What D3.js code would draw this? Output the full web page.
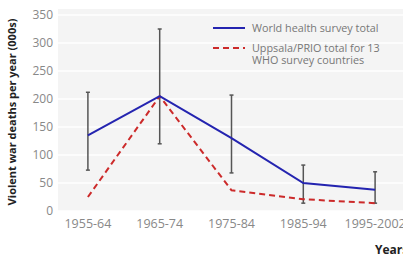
<!DOCTYPE html>
<html><head><meta charset="utf-8">
<script src="https://cdn.jsdelivr.net/npm/d3@7"></script>
<style>body{margin:0;background:#fff}svg{display:block}text{font-family:"Open Sans",sans-serif}</style>
</head><body>
<script>
const categories = ["1955-64","1965-74","1975-84","1985-94","1995-2002"];
const whoTotal = [135, 205, 130, 50, 38];
const whoLow = [73, 120, 68, 14, 14];
const whoHigh = [212, 325, 207, 82, 70];
const uppsala = [25, 205, 37, 21, 14];
const yTicks = [0,50,100,150,200,250,300,350];

const W=403,H=260;
const svg=d3.select("body").append("svg").attr("width",W).attr("height",H);
const x=d3.scaleBand().domain(categories).range([52,411]);
const cx=d=>x(d)+x.bandwidth()/2;
const y=d3.scaleLinear().domain([0,350]).range([211,15]);

svg.append("rect").attr("x",58).attr("y",9).attr("width",W-58).attr("height",211-9).attr("fill","#f4f4f4");
svg.selectAll(".grid").data(yTicks).join("line").attr("x1",58).attr("x2",W)
  .attr("y1",d=>y(d)).attr("y2",d=>y(d)).attr("stroke","#fff").attr("stroke-width",1.5);

const yAxis=svg.append("g").attr("transform","translate(53,0)")
  .call(d3.axisLeft(y).tickValues(yTicks).tickSize(0).tickPadding(0));
yAxis.select(".domain").remove();
yAxis.selectAll("text").attr("fill","#888").style("font-size","12px").style("font-family","Open Sans");

const xAxis=svg.append("g").attr("transform","translate(0,219)")
  .call(d3.axisBottom(x).tickSize(0).tickPadding(0));
xAxis.select(".domain").remove();
xAxis.selectAll("text").attr("fill","#888").style("font-size","12.5px").style("font-family","Open Sans").attr("dy","0.71em");

svg.append("text").attr("transform","translate(16,112) rotate(-90)").attr("text-anchor","middle")
  .style("font-size","11px").style("font-weight","bold").attr("fill","#222").text("Violent war deaths per year (000s)");
svg.append("text").attr("x",375).attr("y",254).style("font-size","12px").style("font-weight","bold").attr("fill","#222").text("Years");

// error bars
const eb=svg.append("g").attr("stroke","#555").attr("stroke-width",1.5);
categories.forEach((c,i)=>{
  eb.append("line").attr("x1",cx(c)).attr("x2",cx(c)).attr("y1",y(whoLow[i])).attr("y2",y(whoHigh[i]));
  eb.append("line").attr("x1",cx(c)-2).attr("x2",cx(c)+2).attr("y1",y(whoLow[i])).attr("y2",y(whoLow[i]));
  eb.append("line").attr("x1",cx(c)-2).attr("x2",cx(c)+2).attr("y1",y(whoHigh[i])).attr("y2",y(whoHigh[i]));
});

const line=d3.line().x((d,i)=>cx(categories[i])).y(d=>y(d));
svg.append("path").datum(uppsala).attr("d",line).attr("fill","none").attr("stroke","#cc2a2a")
  .attr("stroke-width",2).attr("stroke-dasharray","6,4");
svg.append("path").datum(whoTotal).attr("d",line).attr("fill","none").attr("stroke","#2424b0").attr("stroke-width",2);

// legend
const lg=svg.append("g");
lg.append("line").attr("x1",213).attr("x2",245).attr("y1",28).attr("y2",28).attr("stroke","#2424b0").attr("stroke-width",2);
lg.append("text").attr("x",252).attr("y",31.5).style("font-size","10.8px").attr("fill","#777").text("World health survey total");
lg.append("line").attr("x1",213).attr("x2",245).attr("y1",48).attr("y2",48).attr("stroke","#cc2a2a").attr("stroke-width",2).attr("stroke-dasharray","6,4");
lg.append("text").attr("x",252).attr("y",51.5).style("font-size","10.8px").attr("fill","#777").text("Uppsala/PRIO total for 13");
lg.append("text").attr("x",252).attr("y",64).style("font-size","10.8px").attr("fill","#777").text("WHO survey countries");
</script>
</body></html>
